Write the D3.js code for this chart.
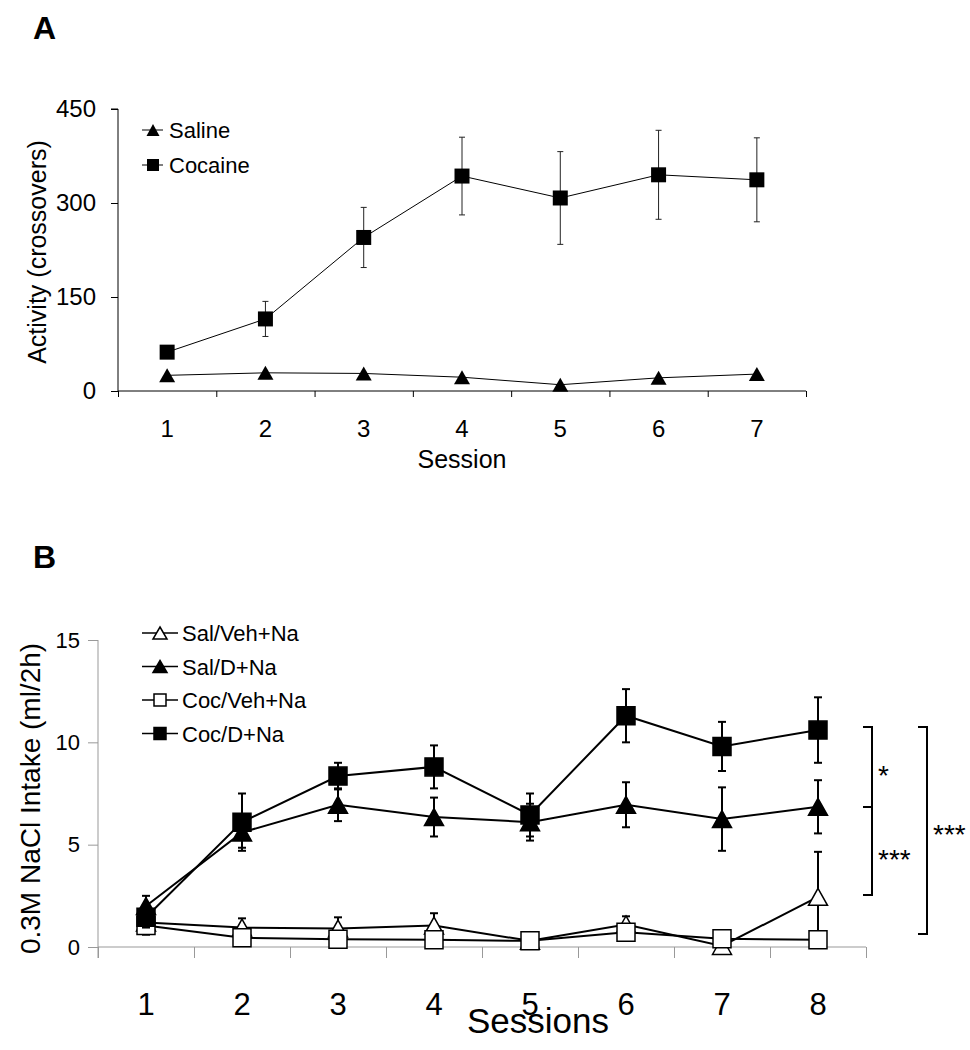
<!DOCTYPE html>
<html>
<head>
<meta charset="utf-8">
<script src="https://cdn.jsdelivr.net/npm/d3@7"></script>
<style>
  html, body { margin: 0; padding: 0; background: #fff; }
  svg { display: block; font-family: "Liberation Sans", Arial, Helvetica, sans-serif; }
</style>
</head>
<body>
<svg id="chart" width="970" height="1050"></svg>
<script>
// ---------- DATA: Panel A ----------
const sessionsA = [1, 2, 3, 4, 5, 6, 7];
const salineA = [25, 29, 28, 22, 10, 21, 27];
const cocaineA = [62, 115, 245, 343, 308, 345, 337];
const cocaineErrA = [8, 28, 48, 62, 74, 71, 67];
const yTicksA = [0, 150, 300, 450];
const legendA = ["Saline", "Cocaine"];

// ---------- DATA: Panel B ----------
const sessionsB = [1, 2, 3, 4, 5, 6, 7, 8];
const salVehB = [1.2, 0.95, 0.9, 1.05, 0.3, 1.1, 0.05, 2.45];
const salVehErrB = [0.3, 0.45, 0.55, 0.6, 0.1, 0.4, 0.3, 2.2];
const salDB = [2.0, 5.6, 6.95, 6.35, 6.1, 6.95, 6.25, 6.85];
const salDErrB = [0.5, 0.75, 0.8, 0.95, 0.9, 1.1, 1.55, 1.3];
const cocVehB = [1.05, 0.45, 0.38, 0.35, 0.3, 0.72, 0.4, 0.35];
const cocVehErrB = [0.45, 0.2, 0.2, 0.2, 0.1, 0.2, 0.2, 0.2];
const cocDB = [1.45, 6.1, 8.35, 8.8, 6.45, 11.3, 9.8, 10.6];
const cocDErrB = [0.5, 1.4, 0.65, 1.05, 1.05, 1.3, 1.2, 1.6];
const yTicksB = [0, 5, 10, 15];
const legendB = ["Sal/Veh+Na", "Sal/D+Na", "Coc/Veh+Na", "Coc/D+Na"];
// significance brackets: [top, bottom, label]
const bracketsB = [
  { top: 10.75, bottom: 6.84, label: "*", col: 0 },
  { top: 6.84, bottom: 2.54, label: "***", col: 0 },
  { top: 10.75, bottom: 0.64, label: "***", col: 1 }
];

const svg = d3.select("#chart");
svg.append("rect").attr("width", 970).attr("height", 1050).attr("fill", "#fff");

// marker path generators (bounding-box centred)
function triPath(w, h) {
  return `M0,${-h/2}L${w/2},${h/2}L${-w/2},${h/2}Z`;
}
function sqPath(s) {
  return `M${-s/2},${-s/2}h${s}v${s}h${-s}Z`;
}

// ================= PANEL A =================
(function () {
  const left = 118, right = 806, top = 109, bottom = 391;
  const x = d3.scaleBand().domain(sessionsA).range([left, right]);
  const y = d3.scaleLinear().domain([0, 450]).range([bottom, top]);
  const cx = d => x(d) + x.bandwidth() / 2;
  const g = svg.append("g");

  g.append("text").attr("x", 33).attr("y", 39).attr("font-size", 32).attr("font-weight", "bold").text("A");

  // y axis
  const yAxis = d3.axisLeft(y).tickValues(yTicksA).tickSize(7).tickPadding(15);
  const ya = g.append("g").attr("transform", `translate(${left},0)`).call(yAxis);
  ya.select(".domain").attr("stroke", "#000").attr("stroke-width", 1).attr("d", `M-7,${top}H0V${bottom}`);
  ya.selectAll("line").attr("stroke", "#000");
  ya.selectAll("text").attr("font-size", 24).attr("font-family", "Liberation Sans, Arial, sans-serif").attr("fill", "#000");

  // x axis (ticks at band boundaries)
  const xb = d3.scaleLinear().domain([0, sessionsA.length]).range([left, right]);
  const xAxis = d3.axisBottom(xb).tickValues(d3.range(0, sessionsA.length + 1)).tickSize(6).tickFormat("");
  const xa = g.append("g").attr("transform", `translate(0,${bottom})`).call(xAxis);
  xa.select(".domain").attr("stroke", "#000").attr("d", `M${left},0H${right}`);
  xa.selectAll("line").attr("stroke", "#000");
  g.selectAll(".xlabA").data(sessionsA).enter().append("text")
    .attr("x", d => cx(d)).attr("y", bottom + 46).attr("text-anchor", "middle")
    .attr("font-size", 24).text(d => d);
  g.append("text").attr("x", 462).attr("y", bottom + 77).attr("text-anchor", "middle")
    .attr("font-size", 25).text("Session");

  g.append("text").attr("transform", `translate(46,${(top + bottom) / 2 + 2}) rotate(-90)`)
    .attr("text-anchor", "middle").attr("font-size", 25).text("Activity (crossovers)");

  const line = d3.line().x((d, i) => cx(sessionsA[i])).y(d => y(d));
  g.append("path").attr("d", line(salineA)).attr("fill", "none").attr("stroke", "#000").attr("stroke-width", 1);
  g.append("path").attr("d", line(cocaineA)).attr("fill", "none").attr("stroke", "#000").attr("stroke-width", 1);

  // error bars cocaine
  const eb = g.selectAll(".ebA").data(cocaineA).enter().append("g");
  eb.append("line").attr("x1", (d, i) => cx(sessionsA[i])).attr("x2", (d, i) => cx(sessionsA[i]))
    .attr("y1", (d, i) => y(d + cocaineErrA[i])).attr("y2", (d, i) => y(d - cocaineErrA[i]))
    .attr("stroke", "#222").attr("stroke-width", 1);
  [1, -1].forEach(s => {
    eb.append("line").attr("x1", (d, i) => cx(sessionsA[i]) - 3).attr("x2", (d, i) => cx(sessionsA[i]) + 3)
      .attr("y1", (d, i) => y(d + s * cocaineErrA[i])).attr("y2", (d, i) => y(d + s * cocaineErrA[i]))
      .attr("stroke", "#222").attr("stroke-width", 1);
  });

  g.selectAll(".triA").data(salineA).enter().append("path")
    .attr("d", triPath(16, 14)).attr("transform", (d, i) => `translate(${cx(sessionsA[i])},${y(d)})`).attr("fill", "#000");
  g.selectAll(".sqA").data(cocaineA).enter().append("path")
    .attr("d", sqPath(15)).attr("transform", (d, i) => `translate(${cx(sessionsA[i])},${y(d)})`).attr("fill", "#000");

  // legend
  const lg = g.append("g");
  legendA.forEach((name, i) => {
    const ly = 130 + i * 35;
    lg.append("line").attr("x1", 142).attr("x2", 163).attr("y1", ly).attr("y2", ly).attr("stroke", "#000");
    lg.append("path").attr("d", i === 0 ? triPath(13, 12) : sqPath(12)).attr("transform", `translate(153,${ly})`).attr("fill", "#000");
    lg.append("text").attr("x", 169).attr("y", ly + 8).attr("font-size", 22).text(name);
  });
})();

// ================= PANEL B =================
(function () {
  const left = 98, right = 866, top = 640, bottom = 947;
  const x = d3.scaleBand().domain(sessionsB).range([left, right]);
  const y = d3.scaleLinear().domain([0, 15]).range([bottom, top]);
  const cx = d => x(d) + x.bandwidth() / 2;
  const g = svg.append("g");
  const axisCol = "#999";

  g.append("text").attr("x", 33).attr("y", 568).attr("font-size", 32).attr("font-weight", "bold").text("B");

  const yAxis = d3.axisLeft(y).tickValues(yTicksB).tickSize(10).tickPadding(8);
  const ya = g.append("g").attr("transform", `translate(${left},0)`).call(yAxis);
  ya.select(".domain").attr("stroke", axisCol).attr("d", `M0,${top}V${bottom + 11}`);
  ya.selectAll("line").attr("stroke", axisCol);
  ya.selectAll("text").attr("font-size", 22).attr("font-family", "Liberation Sans, Arial, sans-serif").attr("fill", "#000");

  const xb = d3.scaleLinear().domain([0, sessionsB.length]).range([left, right]);
  const xAxis = d3.axisBottom(xb).tickValues(d3.range(0, sessionsB.length + 1)).tickSize(11).tickFormat("");
  const xa = g.append("g").attr("transform", `translate(0,${bottom})`).call(xAxis);
  xa.select(".domain").attr("stroke", axisCol).attr("d", `M${left},0H${right}`);
  xa.selectAll("line").attr("stroke", axisCol);
  g.selectAll(".xlabB").data(sessionsB).enter().append("text")
    .attr("x", d => cx(d)).attr("y", bottom + 68).attr("text-anchor", "middle")
    .attr("font-size", 31).text(d => d);
  g.append("text").attr("x", 538).attr("y", bottom + 86).attr("text-anchor", "middle")
    .attr("font-size", 35).text("Sessions");

  g.append("text").attr("transform", `translate(40,${(top + bottom) / 2 + 5}) rotate(-90)`)
    .attr("text-anchor", "middle").attr("font-size", 28).text("0.3M NaCl Intake (ml/2h)");

  const series = [
    { v: salVehB, e: salVehErrB, shape: "tri", fill: "#fff" },
    { v: salDB, e: salDErrB, shape: "tri", fill: "#000" },
    { v: cocVehB, e: cocVehErrB, shape: "sq", fill: "#fff" },
    { v: cocDB, e: cocDErrB, shape: "sq", fill: "#000" }
  ];
  const line = d3.line().x((d, i) => cx(sessionsB[i])).y(d => y(d));

  series.forEach(s => {
    const sg = g.append("g");
    sg.append("path").attr("d", line(s.v)).attr("fill", "none").attr("stroke", "#000").attr("stroke-width", 2);
    const eb = sg.selectAll(".eb").data(s.v).enter().append("g");
    eb.append("line").attr("x1", (d, i) => cx(sessionsB[i])).attr("x2", (d, i) => cx(sessionsB[i]))
      .attr("y1", (d, i) => y(d + s.e[i])).attr("y2", (d, i) => y(d - s.e[i]))
      .attr("stroke", "#000").attr("stroke-width", 2);
    [1, -1].forEach(k => {
      eb.append("line").attr("x1", (d, i) => cx(sessionsB[i]) - 4).attr("x2", (d, i) => cx(sessionsB[i]) + 4)
        .attr("y1", (d, i) => y(d + k * s.e[i])).attr("y2", (d, i) => y(d + k * s.e[i]))
        .attr("stroke", "#000").attr("stroke-width", 2);
    });
    sg.selectAll(".m").data(s.v).enter().append("path")
      .attr("d", s.shape === "tri" ? triPath(19, 17) : sqPath(18))
      .attr("transform", (d, i) => `translate(${cx(sessionsB[i])},${y(d)})`)
      .attr("fill", s.fill).attr("stroke", "#000").attr("stroke-width", 1.5);
  });

  // legend
  legendB.forEach((name, i) => {
    const ly = 633 + i * 33.5;
    const s = series[i];
    g.append("line").attr("x1", 142).attr("x2", 178).attr("y1", ly).attr("y2", ly).attr("stroke", "#000").attr("stroke-width", 1.5);
    g.append("path").attr("d", s.shape === "tri" ? triPath(14, 12) : sqPath(12))
      .attr("transform", `translate(160,${ly})`).attr("fill", s.fill).attr("stroke", "#000").attr("stroke-width", 1.5);
    g.append("text").attr("x", 182).attr("y", ly + 8).attr("font-size", 22).text(name);
  });

  // significance brackets
  const bx = [right + 6, right + 61];
  bracketsB.forEach(b => {
    const xx = bx[b.col];
    g.append("path").attr("d", `M${xx - 9},${y(b.top)}H${xx}V${y(b.bottom)}H${xx - 9}`)
      .attr("fill", "none").attr("stroke", "#000").attr("stroke-width", 2);
    g.append("text").attr("x", xx + 6).attr("y", (y(b.top) + y(b.bottom)) / 2 + (b.col === 1 ? 14 : 18))
      .attr("font-size", 28).text(b.label);
  });
})();
</script>
</body>
</html>
